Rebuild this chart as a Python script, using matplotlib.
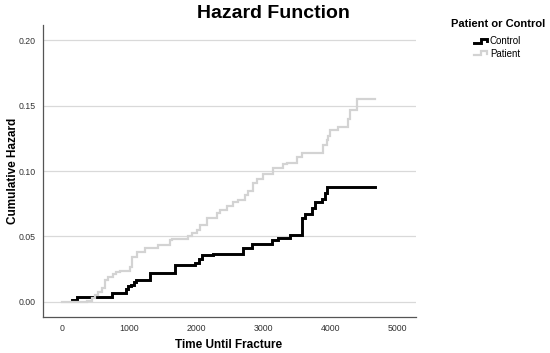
import matplotlib
matplotlib.use("Agg")
import matplotlib.pyplot as plt
from matplotlib.legend_handler import HandlerBase
from matplotlib.lines import Line2D

plt.rcParams["font.family"] = ["Liberation Sans", "DejaVu Sans"]

# cumulative hazard step points (time, hazard after step)
control_time = [150, 223, 744, 952, 982, 1027, 1071, 1101, 1310, 1682, 1979, 2039, 2083,
                2247, 2693, 2827, 3125, 3214, 3393, 3571, 3616, 3720, 3765, 3869, 3914,
                3943, 4658]
control_hazard = [0.0015, 0.004, 0.007, 0.010, 0.012, 0.013, 0.015, 0.017, 0.022, 0.028,
                  0.030, 0.033, 0.036, 0.037, 0.041, 0.044, 0.047, 0.049, 0.051, 0.064,
                  0.067, 0.072, 0.076, 0.079, 0.083, 0.088, 0.088]

patient_time = [0, 372, 446, 491, 536, 595, 640, 685, 759, 804, 863, 1012, 1042, 1116,
                1235, 1429, 1607, 1637, 1875, 1935, 2009, 2054, 2158, 2307, 2351, 2455,
                2545, 2619, 2723, 2768, 2842, 2902, 2991, 3140, 3289, 3348, 3497, 3571,
                3884, 3943, 3958, 3988, 4107, 4256, 4286, 4390, 4658]
patient_hazard = [0.0, 0.001, 0.003, 0.0053, 0.0076, 0.011, 0.017, 0.019, 0.021, 0.023,
                  0.024, 0.027, 0.034, 0.038, 0.041, 0.0435, 0.047, 0.048, 0.050, 0.053,
                  0.055, 0.059, 0.064, 0.068, 0.070, 0.073, 0.076, 0.078, 0.082, 0.085,
                  0.091, 0.094, 0.098, 0.102, 0.105, 0.106, 0.111, 0.114, 0.120, 0.124,
                  0.127, 0.131, 0.134, 0.140, 0.147, 0.155, 0.155]

x_ticks = [0, 1000, 2000, 3000, 4000, 5000]
y_ticks = [0.00, 0.05, 0.10, 0.15, 0.20]

CONTROL_COLOR = "#000000"
PATIENT_COLOR = "#d3d3d3"


class StepHandler(HandlerBase):
    def create_artists(self, legend, orig_handle, xdescent, ydescent, width, height,
                       fontsize, trans):
        w, h = width, height
        xs = [w * 0.0, w * 0.45, w * 0.45, w * 0.9, w * 0.9]
        ys = [h * 0.2, h * 0.2, h * 0.75, h * 0.75, h * 0.4]
        line = Line2D([x - xdescent for x in xs], [y - ydescent for y in ys],
                      color=orig_handle.get_color(), lw=orig_handle.get_linewidth(),
                      solid_joinstyle="miter", transform=trans)
        return [line]


fig = plt.figure(figsize=(5.5, 3.53), dpi=100)
ax = fig.add_axes([0.078, 0.102, 0.678, 0.827])

ax.set_xlim(-283, 5268)
ax.set_ylim(-0.0115, 0.2115)

for y in y_ticks:
    ax.axhline(y, color="#d9d9d9", lw=0.9, zorder=0)

ctrl, = ax.step(control_time, control_hazard, where="post", color=CONTROL_COLOR,
                lw=2.1, label="Control", zorder=2, solid_joinstyle="miter")
pat, = ax.step(patient_time, patient_hazard, where="post", color=PATIENT_COLOR,
               lw=1.6, label="Patient", zorder=3, solid_joinstyle="miter")

ax.set_xticks(x_ticks)
ax.set_xticklabels([str(t) for t in x_ticks])
ax.set_yticks(y_ticks)
ax.set_yticklabels([f"{v:.2f}" for v in y_ticks])
ax.tick_params(length=0, labelsize=6.3, colors="#333333", pad=5)

for side in ["top", "right"]:
    ax.spines[side].set_visible(False)
for side in ["left", "bottom"]:
    ax.spines[side].set_color("#555555")
    ax.spines[side].set_linewidth(0.9)

fig.text(229 / 550, 1 - 345 / 353, "Time Until Fracture", fontsize=8.5,
         fontweight="bold", ha="center", va="center")
fig.text(13 / 550, 1 - 171 / 353, "Cumulative Hazard", fontsize=8.5,
         fontweight="bold", ha="center", va="center", rotation=90)
fig.text(273 / 550, 1 - 13 / 353, "Hazard Function", fontsize=14,
         fontweight="bold", ha="center", va="center")

leg = fig.legend(handles=[ctrl, pat], labels=["Control", "Patient"],
                 title="Patient or Control", loc="upper center",
                 bbox_to_anchor=(0.905, 0.965), frameon=False, fontsize=7,
                 title_fontproperties={"size": 8, "weight": "bold"},
                 handler_map={Line2D: StepHandler()}, handlelength=1.5,
                 handletextpad=0.1, labelspacing=0.25, borderpad=0.2)
leg._legend_box.sep = 5

fig.savefig("out.png", dpi=100)
